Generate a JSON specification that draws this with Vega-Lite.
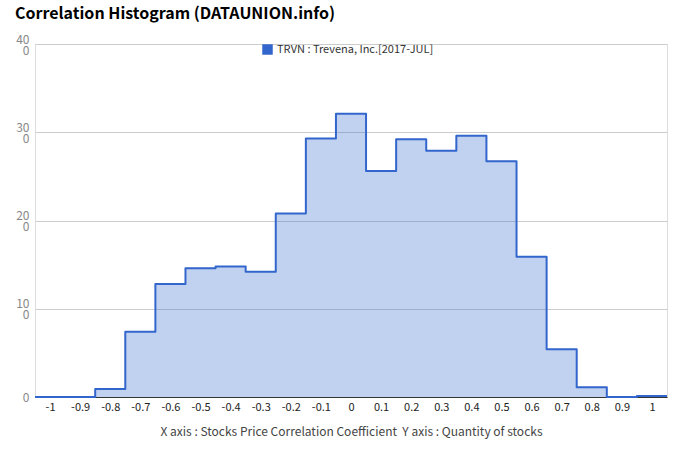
{
  "$schema": "https://vega.github.io/schema/vega-lite/v6.json",
  "width": 632,
  "height": 353,
  "autosize": "none",
  "padding": {"left": 35, "top": 44, "right": 13, "bottom": 65},
  "background": "white",
  "title": {
    "text": "Correlation Histogram (DATAUNION.info)",
    "anchor": "start",
    "frame": "group",
    "dx": -20,
    "offset": 11,
    "font": "Noto Sans CJK KR",
    "fontSize": 16,
    "fontWeight": "bold",
    "color": "#000000"
  },
  "data": {
    "values": [
      {"x0": -1.05, "n": 0, "s": "TRVN : Trevena, Inc.[2017-JUL]"},
      {"x0": -0.95, "n": 0, "s": "TRVN : Trevena, Inc.[2017-JUL]"},
      {"x0": -0.85, "n": 9, "s": "TRVN : Trevena, Inc.[2017-JUL]"},
      {"x0": -0.75, "n": 74, "s": "TRVN : Trevena, Inc.[2017-JUL]"},
      {"x0": -0.65, "n": 128, "s": "TRVN : Trevena, Inc.[2017-JUL]"},
      {"x0": -0.55, "n": 146, "s": "TRVN : Trevena, Inc.[2017-JUL]"},
      {"x0": -0.45, "n": 148, "s": "TRVN : Trevena, Inc.[2017-JUL]"},
      {"x0": -0.35, "n": 142, "s": "TRVN : Trevena, Inc.[2017-JUL]"},
      {"x0": -0.25, "n": 208, "s": "TRVN : Trevena, Inc.[2017-JUL]"},
      {"x0": -0.15, "n": 293, "s": "TRVN : Trevena, Inc.[2017-JUL]"},
      {"x0": -0.05, "n": 321, "s": "TRVN : Trevena, Inc.[2017-JUL]"},
      {"x0": 0.05, "n": 256, "s": "TRVN : Trevena, Inc.[2017-JUL]"},
      {"x0": 0.15, "n": 292, "s": "TRVN : Trevena, Inc.[2017-JUL]"},
      {"x0": 0.25, "n": 279, "s": "TRVN : Trevena, Inc.[2017-JUL]"},
      {"x0": 0.35, "n": 296, "s": "TRVN : Trevena, Inc.[2017-JUL]"},
      {"x0": 0.45, "n": 267, "s": "TRVN : Trevena, Inc.[2017-JUL]"},
      {"x0": 0.55, "n": 159, "s": "TRVN : Trevena, Inc.[2017-JUL]"},
      {"x0": 0.65, "n": 54, "s": "TRVN : Trevena, Inc.[2017-JUL]"},
      {"x0": 0.75, "n": 11, "s": "TRVN : Trevena, Inc.[2017-JUL]"},
      {"x0": 0.85, "n": 0, "s": "TRVN : Trevena, Inc.[2017-JUL]"},
      {"x0": 0.95, "n": 1, "s": "TRVN : Trevena, Inc.[2017-JUL]"},
      {"x0": 1.05, "n": 1, "s": "TRVN : Trevena, Inc.[2017-JUL]"}
    ]
  },
  "mark": {
    "type": "area",
    "interpolate": "step-after",
    "fillOpacity": 0.3,
    "line": {"strokeWidth": 2, "interpolate": "step-after", "strokeJoin": "round"}
  },
  "encoding": {
    "x": {
      "field": "x0",
      "type": "quantitative",
      "scale": {"domain": [-1.05, 1.05], "nice": false, "zero": false},
      "axis": {
        "values": [-1, -0.9, -0.8, -0.7, -0.6, -0.5, -0.4, -0.3, -0.2, -0.1, 0, 0.1, 0.2, 0.3, 0.4, 0.5, 0.6, 0.7, 0.8, 0.9, 1],
        "labelExpr": "'' + datum.value",
        "grid": false,
        "ticks": false,
        "domainColor": "#333333",
        "domainWidth": 1,
        "labelFont": "Noto Sans CJK KR",
        "labelFontSize": 11,
        "labelColor": "#222222",
        "labelPadding": 4,
        "title": "X axis : Stocks Price Correlation Coefficient \u00a0Y axis : Quantity of stocks",
        "titleFont": "Noto Sans CJK KR",
        "titleFontSize": 12,
        "titleFontWeight": "normal",
        "titleColor": "#444444",
        "titlePadding": 14
      }
    },
    "y": {
      "field": "n",
      "type": "quantitative",
      "scale": {"domain": [0, 400], "nice": false},
      "axis": {
        "values": [0, 100, 200, 300, 400],
        "labelExpr": "datum.value == 0 ? '0' : [slice(datum.label, 0, 2), slice(datum.label, 2)]",
        "domain": false,
        "ticks": false,
        "gridColor": "#cccccc",
        "labelFont": "Noto Sans CJK KR",
        "labelFontSize": 12,
        "labelColor": "#888888",
        "labelPadding": 6,
        "labelLineHeight": 11,
        "labelBaseline": "middle",
        "labelOffset": {"condition": {"test": "datum.value == 0", "value": 0}, "value": -5},
        "title": null
      }
    },
    "color": {
      "field": "s",
      "type": "nominal",
      "scale": {"range": ["#3366cc"]},
      "legend": {
        "title": null,
        "orient": "none",
        "legendX": 227,
        "legendY": 0,
        "symbolType": "square",
        "symbolSize": 110,
        "symbolOpacity": 1,
        "symbolFillColor": "#3366cc",
        "symbolStrokeWidth": 0,
        "labelFont": "Noto Sans CJK KR",
        "labelFontSize": 11,
        "labelColor": "#333333"
      }
    }
  }
}
